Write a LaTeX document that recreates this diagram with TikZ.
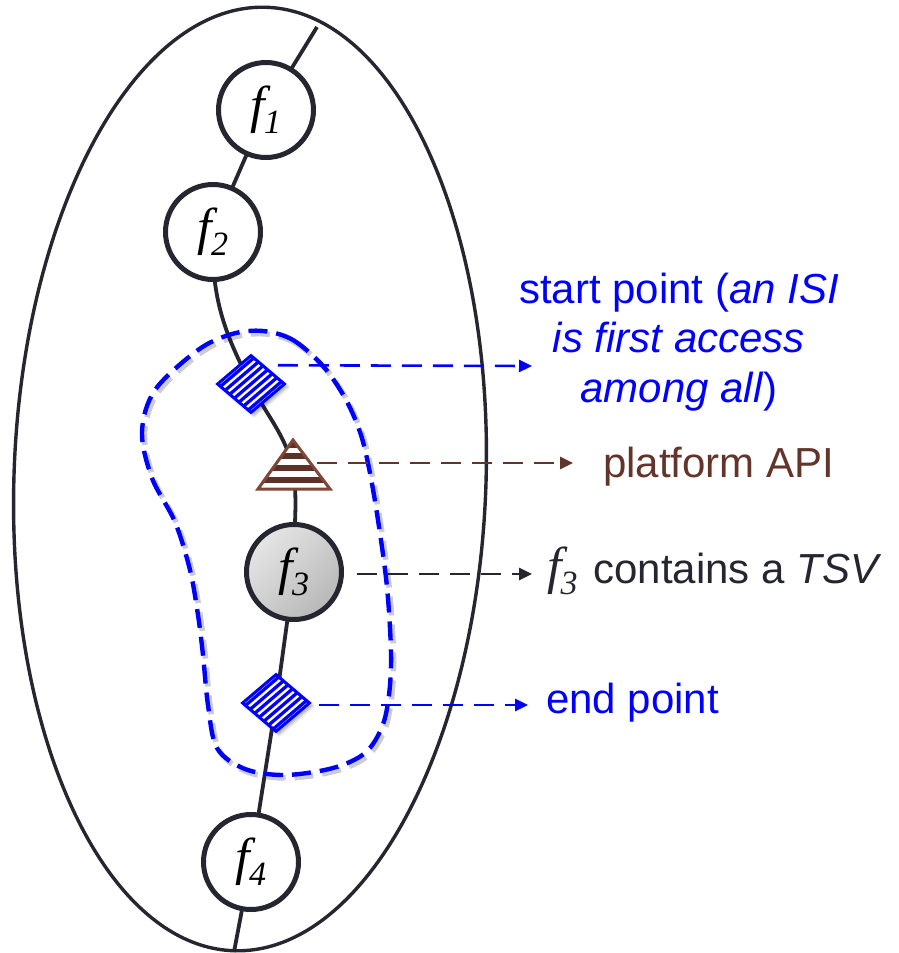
\documentclass[tikz,border=0pt]{standalone}
\usepackage{fontspec}
\setmainfont{Liberation Sans}
\newfontfamily\fserif{Liberation Serif}
\usetikzlibrary{arrows.meta,shapes.geometric,backgrounds,shadows.blur,calc}

\definecolor{ink}{RGB}{38,38,48}
\definecolor{apibrown}{RGB}{98,52,42}
\definecolor{triedge}{RGB}{128,70,56}
\definecolor{tribar}{RGB}{92,50,40}
\definecolor{mblue}{RGB}{0,0,255}

% italic function name with an italic subscript
\newcommand{\fsub}[1]{{\fserif\itshape\fontsize{52}{52}\selectfont f\kern-1pt\raisebox{-11pt}{\fontsize{34}{34}\selectfont #1}}}

% outline of the dashed region around the traced section
\newcommand{\regionpath}{plot[smooth cycle,tension=0.55] coordinates {
  (263,-331) (293,-340) (323,-366) (345,-398) (360,-432) (369,-468)
  (378,-520) (387,-587) (391,-653) (389,-695) (382,-727) (365,-753)
  (333,-768) (285,-775) (245,-769) (217,-748) (208,-705) (203,-655)
  (198,-615) (190,-570) (175,-522) (152,-478) (142,-432) (155,-390)
  (198,-350) (232,-334)}}

\begin{document}
\begin{tikzpicture}[x=1pt,y=1pt,
  wire/.style={draw=ink,line width=3.8pt},
  fnode/.style={circle,draw=ink,line width=5pt,fill=white,minimum size=95pt,inner sep=0pt},
  marker/.style={diamond,draw=mblue,fill=mblue,line width=3pt,minimum width=68pt,minimum height=58pt,inner sep=0pt,
    blur shadow={shadow xshift=3pt,shadow yshift=-3pt,shadow opacity=35,shadow blur radius=3pt},
    path picture={\foreach \k in {-3.5,-2.5,...,3.5}
      \draw[white,line width=2.4pt] ([shift={({(\k)*3.9-30.4},{-(\k)*4.55-26})}]path picture bounding box.center) -- ++(60.8,52);}},
  callout/.style={dash pattern=on 20pt off 11pt,line width=2.6pt,-{Triangle[length=13pt,width=12pt]}},
  regionline/.style={mblue,line width=4.4pt,dash pattern=on 19pt off 9pt},
  txt/.style={inner sep=0pt,font=\fontsize{42}{49.5}\selectfont}
]
\useasboundingbox (0,0) rectangle (898,-953);

% outer scope
\draw[ink,line width=3.4pt,rotate around={-2:(250,-479)}] (250,-479) ellipse [x radius=236,y radius=472];

% dashed region with its soft shadow
\draw[regionline,black,opacity=0.2,line width=5.5pt,shift={(2.5,-3)}] \regionpath;
\draw[regionline] \regionpath;

% function nodes
\node[fnode] (f1) at (266,-110) {\fsub{1}};
\node[fnode] (f2) at (213,-232) {\fsub{2}};
\node[fnode,top color=black!10,bottom color=black!28,shading angle=45] (f3) at (294,-572) {\fsub{3}};
\node[fnode] (f4) at (251,-862) {\fsub{4}};

% start and end markers
\node[marker] (d1) at (251,-384) {};
\node[marker] (d2) at (276,-703) {};

% platform API marker (striped triangle)
\coordinate (ta) at (293,-440);
\coordinate (tb) at (258,-489);
\coordinate (tc) at (330,-489);
\coordinate (tri) at (293,-468);
\begin{scope}
  \clip (ta) -- (tb) -- (tc) -- cycle;
  \fill[white] (250,-430) rectangle (340,-495);
  \fill[tribar] (250,-430) rectangle (340,-448);
  \fill[tribar] (250,-453) rectangle (340,-459);
  \fill[tribar] (250,-465) rectangle (340,-471);
  \fill[tribar] (250,-477) rectangle (340,-483);
\end{scope}
\draw[triedge,line width=3pt,line join=miter] (ta) -- (tb) -- (tc) -- cycle;

% execution path through the scope
\coordinate (wtop) at (317,-27);
\coordinate (wbot) at (234,-952);
\begin{scope}[on background layer]
  \draw[wire] (wtop) -- (f1.center) -- (f2.center) to[out=-92,in=118] (d1.center)
    to[out=-64,in=104] (tri) to[out=-82,in=92] (f3.center) -- (d2.center) -- (f4.center) -- (wbot);
\end{scope}

% labels
\node[txt,text=mblue,align=center] (startlbl) at (679,-342) {start point (\textit{an ISI}\\\textit{is first access}\\\textit{among all})};
\node[txt,text=apibrown,anchor=base west] (apilbl) at (603,-477) {platform API};
\node[txt,text=ink,anchor=base west] (tsvlbl) at (547,-583) {\fsub{3}\hspace{4pt} contains a \textit{TSV}};
\node[txt,text=mblue,anchor=base west] (endlbl) at (546,-713) {end point};

% callout arrows
\coordinate (e1) at (532,-366);
\coordinate (tap) at (317,-463);
\coordinate (e2) at (573,-463);
\coordinate (e3) at (532,-574);
\coordinate (e4) at (528,-705);
\draw[callout,mblue] ([xshift=9pt,yshift=3.5pt]d1.north east) -- (e1);
\draw[callout,apibrown] (tap) -- (e2);
\draw[callout,ink] ([xshift=13pt,yshift=-2pt]f3.east) -- (e3);
\draw[callout,mblue] ([xshift=7pt,yshift=-2pt]d2.east) -- (e4);
\end{tikzpicture}
\end{document}
